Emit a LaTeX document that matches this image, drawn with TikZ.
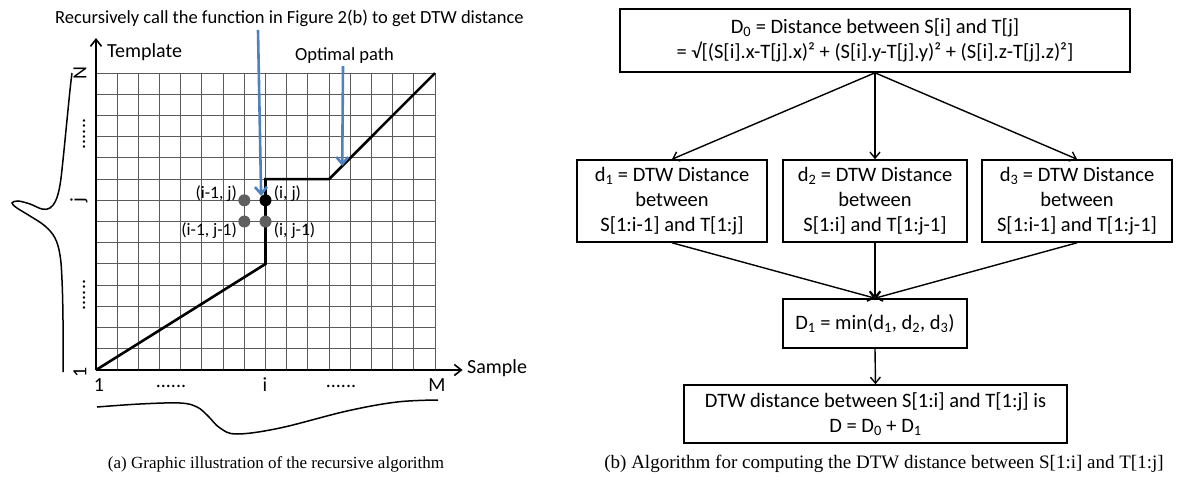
\documentclass[tikz,border=0pt]{standalone}
\usepackage{fontspec}
\setmainfont{Carlito}
\newfontfamily\capfont{Liberation Serif}
\usepackage{tikz}
\usetikzlibrary{
    arrows.meta,
    positioning,
    calc
}
\definecolor{Pblue}{RGB}{79, 129, 189}
\definecolor{Pgrid}{RGB}{90, 90, 90}
\definecolor{Pdot}{RGB}{95, 95, 95}

\tikzset{
    lbl/.style={font=\fontsize{18.5}{22}\selectfont, inner sep=0pt},
    bigl/.style={font=\fontsize{20}{24}\selectfont, inner sep=0pt},
    celll/.style={font=\fontsize{17.5}{20}\selectfont, inner sep=0pt},
    algobox/.style={draw, line width=1.6pt, align=center, inner sep=0pt,
        font=\fontsize{20.5}{25}\selectfont},
    flow/.style={line width=1.4pt, -{Straight Barb[length=6pt,width=10pt]}},
    hint/.style={Pblue, line width=2.6pt, -{Straight Barb[length=7pt,width=12pt]}},
    axis/.style={line width=1.6pt, -{Straight Barb[length=7pt,width=11pt]}},
    cell/.style={circle, inner sep=0pt, minimum size=12pt},
    captxt/.style={font=\capfont, inner sep=0pt}
}

\begin{document}
\begin{tikzpicture}[x=1pt, y=-1pt]
\useasboundingbox (0,0) rectangle (1179,482);

% ---------- (a) warping grid ----------
\begin{scope}[shift={(96,370)}, x=21.19pt, y=21.21pt]
\foreach \i in {1,...,16} \draw[Pgrid, line width=1pt] (\i,0) -- (\i,14);
\foreach \j in {1,...,14} \draw[Pgrid, line width=1pt] (0,\j) -- (16,\j);

% axes
\coordinate (org) at (0,0);
\draw[axis] (org) -- (0,15.65);
\draw[axis] (org) -- (17.3,0);

% optimal path
\draw[line width=2.6pt, line join=miter] (org) -- (8,5) -- (8,9) -- (11,9) -- (16,14);
\coordinate (pathhit) at (11.62,9.62);

% neighbour cells
\node[cell, fill=Pdot]  (dA) at (7,8) {};
\node[cell, fill=black] (dB) at (8,8) {};
\node[cell, fill=Pdot]  (dC) at (7,7) {};
\node[cell, fill=Pdot]  (dD) at (8,7) {};
\node[celll, left=1pt of dA, yshift=7pt]   {(i-1, j)};
\node[celll, right=2pt of dB, yshift=7pt]  {(i, j)};
\node[celll, left=1pt of dC, yshift=-9pt]  {(i-1, j-1)};
\node[celll, right=2pt of dD, yshift=-9pt] {(i, j-1)};
\end{scope}

% axis texts
\node[bigl, anchor=west] (tmpl) at (107,52) {Template};
\node[bigl, anchor=west] (smpl) at (467,368) {Sample};
\node[bigl] at (99,385)  {1};
\node[bigl] at (171,386) {......};
\node[bigl] at (265,385) {i};
\node[bigl] at (341,386) {......};
\node[bigl] at (437,385) {M};
\node[bigl, rotate=90] at (80,73)  {N};
\node[bigl, rotate=90] at (84,134) {......};
\node[bigl, rotate=90] at (79,200) {j};
\node[bigl, rotate=90] at (84,295) {......};
\node[bigl, rotate=90] at (80,372) {1};

% template and sample signals
\draw[line width=1.5pt] plot[smooth, tension=0.6] coordinates {
    (63,372) (63,320) (62,280) (60,255) (55,238) (45,226) (30,216) (17,208) (12,203)
    (18,201) (30,204) (42,209) (50,208) (56,200) (60,185) (63,160) (67,120) (70,90) (72,73)};
\draw[line width=1.5pt] plot[smooth, tension=0.6] coordinates {
    (97,407) (140,404) (180,403) (197,407) (208,416) (220,428) (237,434) (280,428)
    (347,411) (397,402) (438,400)};

% blue notes
\node[lbl, anchor=west] (recnote) at (55,18) {Recursively call the function in Figure 2(b) to get DTW distance};
\node[lbl, anchor=west] (optnote) at (295,56) {Optimal path};
\coordinate (recfoot) at (258,30);
\coordinate (optfoot) at (343,66);
\draw[hint] (recfoot) -- (dB.north west);
\draw[hint] (optfoot) -- (pathhit);

% ---------- (b) algorithm ----------
\node[algobox, minimum width=510pt, minimum height=63pt] (dzero) at (875,40.5)
    {D\textsubscript{0} = Distance between S[i] and T[j]\\
     = √[(S[i].x-T[j].x)² + (S[i].y-T[j].y)² + (S[i].z-T[j].z)²]};
\node[algobox, minimum width=190pt, minimum height=82pt] (done) at (672,201)
    {d\textsubscript{1} = DTW Distance\\between\\S[1:i-1] and T[1:j]};
\node[algobox, minimum width=184pt, minimum height=82pt] (dtwo) at (875,201)
    {d\textsubscript{2} = DTW Distance\\between\\S[1:i] and T[1:j-1]};
\node[algobox, minimum width=190pt, minimum height=82pt] (dthree) at (1077,201)
    {d\textsubscript{3} = DTW Distance\\between\\S[1:i-1] and T[1:j-1]};
\node[algobox, minimum width=184pt, minimum height=49pt] (dmin) at (875,323.5)
    {D\textsubscript{1} = min(d\textsubscript{1}, d\textsubscript{2}, d\textsubscript{3})};
\node[algobox, minimum width=383pt, minimum height=58pt] (dsum) at (875.5,414)
    {DTW distance between S[1:i] and T[1:j] is\\D = D\textsubscript{0} + D\textsubscript{1}};

\draw[flow] (dzero.south) -- (done.north);
\draw[flow] (dzero.south) -- (dtwo.north);
\draw[flow] (dzero.south) -- (dthree.north);
\draw[flow] (done.south) -- (dmin.north);
\draw[flow] (dtwo.south) -- (dmin.north);
\draw[flow] (dthree.south) -- (dmin.north);
\draw[flow] (dmin.south) -- (dsum.north);

% captions
\node[captxt, font=\capfont\fontsize{17}{19}\selectfont] (capa) at (276,464)
    {(a) Graphic illustration of the recursive algorithm};
\node[captxt, font=\capfont\fontsize{19}{21}\selectfont] (capb) at (884,464)
    {(b) Algorithm for computing the DTW distance between S[1:i] and T[1:j]};

\end{tikzpicture}
\end{document}
